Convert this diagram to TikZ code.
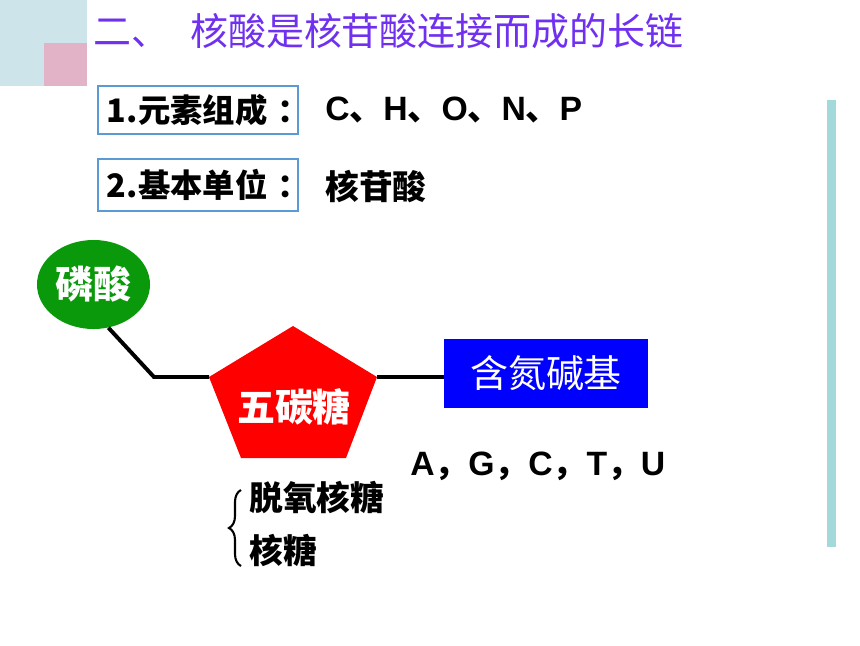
\documentclass[tikz,border=0pt]{standalone}
\usepackage{fontspec}
\setmainfont{Liberation Sans}
\newfontfamily\cjk{Noto Sans CJK SC}
\usetikzlibrary{positioning,calc,shapes.geometric,decorations.pathreplacing}
\definecolor{titlepurple}{HTML}{7030F0}
\definecolor{cornerblue}{HTML}{CDE5EA}
\definecolor{cornerpink}{HTML}{E2B3C7}
\definecolor{boxblue}{HTML}{5B9BD5}
\definecolor{phosgreen}{HTML}{0A990A}
\definecolor{bargreen}{HTML}{A3D9DB}
\newcommand{\dun}{{\cjk 、}}
\newcommand{\dou}{{\cjk ，}}
\newcommand{\colonfw}{\kern0.3em：}

\begin{document}
\begin{tikzpicture}[x=0.025cm,y=-0.025cm,
    big/.style={font=\fontsize{27}{32}\selectfont\cjk, inner sep=0pt},
    body/.style={font=\fontsize{24}{28}\selectfont\bfseries, inner sep=0pt},
    tagbox/.style={draw=boxblue, line width=0.8pt, text width=4.55cm, align=left,
                   inner xsep=0.225cm, inner ysep=0pt,
                   font=\fontsize{23}{28}\selectfont\bfseries\cjk},
    bond/.style={line width=2.8pt}]
    \useasboundingbox (0,0) rectangle (860,645);

    % Draw corner squares and side bar
    \fill[cornerblue] (0,0) rectangle (87,86);
    \fill[cornerpink] (44,43) rectangle (87,86);
    \fill[bargreen] (827,100) rectangle (836,547);

    % Draw title
    \node[big, text=titlepurple, anchor=west] (title) at (93,31) {二、\hspace{0.55em}核酸是核苷酸连接而成的长链};

    % Draw labels
    \node[tagbox, minimum height=1.2cm] (elem) at (198,110) {1.元素组成\colonfw};
    \node[tagbox, minimum height=1.3cm] (unit) at (198,185) {2.基本单位\colonfw};
    \node[body, anchor=west] (elemval) at (325,110) {C\dun H\dun O\dun N\dun P};
    \node[body, anchor=west] (unitval) at (325,187) {\cjk 核苷酸};

    % Draw phosphate and base
    \node[ellipse, fill=phosgreen, minimum width=2.825cm, minimum height=2.225cm, inner sep=0pt,
          font=\fontsize{27}{32}\selectfont\bfseries\cjk, text=white] (phos) at (93.5,284.5) {磷酸};
    \node[fill=blue, minimum width=5.1cm, minimum height=1.725cm, inner sep=0pt,
          font=\fontsize{27}{32}\selectfont\cjk, text=white] (base) at (546,373.5) {含氮碱基};

    % Draw sugar
    \coordinate (sugarT) at (293,326);
    \coordinate (sugarL) at (209,377);
    \coordinate (sugarR) at (377,377);
    \coordinate (sugarBL) at (241,458);
    \coordinate (sugarBR) at (346,458);
    \fill[red] (sugarT) -- (sugarR) -- (sugarBR) -- (sugarBL) -- (sugarL) -- cycle;
    \node[font=\fontsize{27}{32}\selectfont\bfseries\cjk, text=white, inner sep=0pt] (sugar) at (294,407) {五碳糖};

    % Draw bonds
    \coordinate (bend) at (154,377);
    \draw[bond] (phos.-71) -- (bend) -- (sugarL);
    \draw[bond] (sugarR) -- (sugarR -| base.west);

    % Draw base letters and sugar kinds
    \node[body, anchor=west] (letters) at (410,466) {A\dou G\dou C\dou T\dou U};
    \node[body, anchor=west] (deoxy) at (249,497) {\cjk 脱氧核糖};
    \node[body, anchor=west] (ribo) at (249,550) {\cjk 核糖};
    \draw[line width=1.5pt, decorate, decoration={brace, amplitude=0.3cm}] (241,566) -- (241,490);
\end{tikzpicture}
\end{document}
